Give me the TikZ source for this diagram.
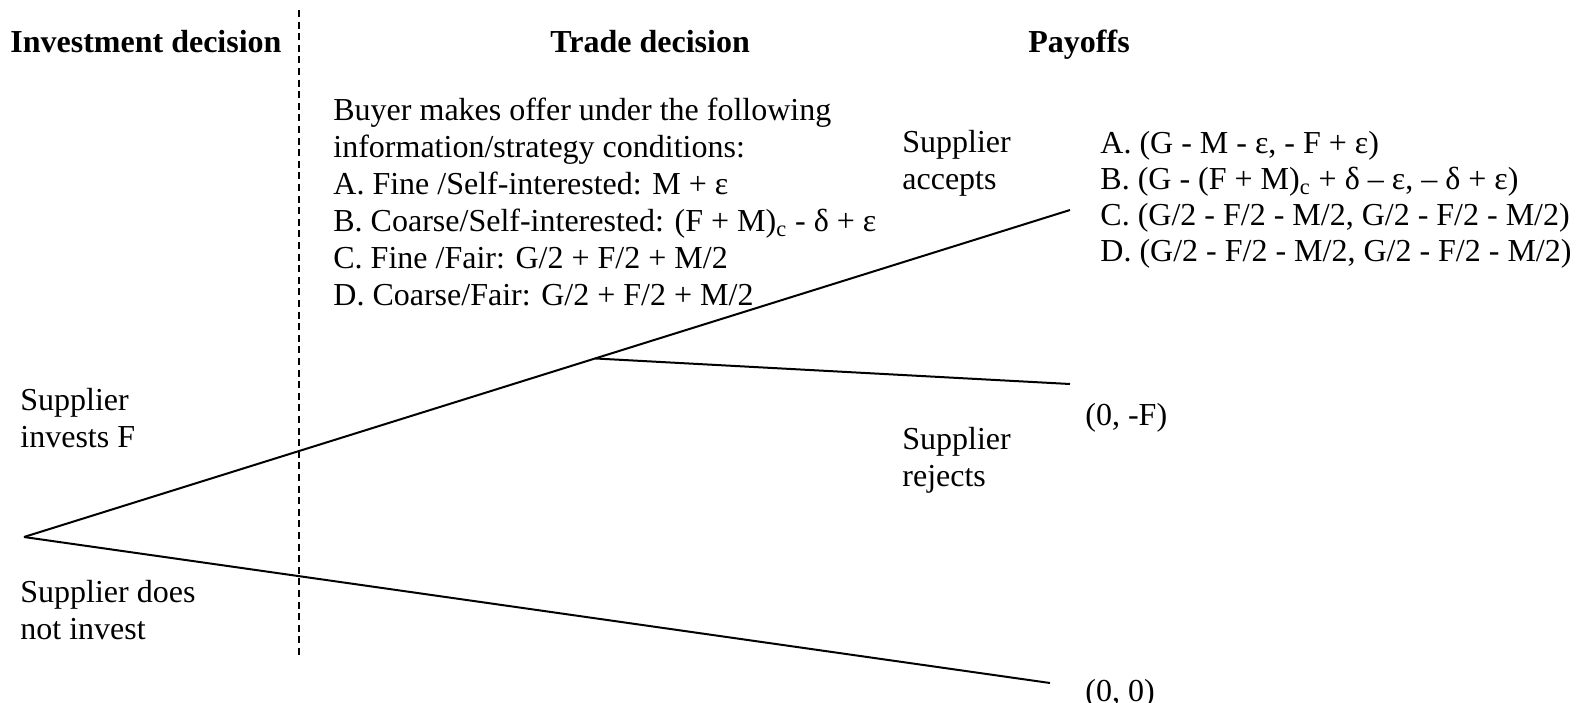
\documentclass[tikz,border=0pt]{standalone}
\usepackage{fontspec}
\setmainfont{Liberation Serif}
\usetikzlibrary{calc}
\begin{document}
\begin{tikzpicture}[x=0.5pt,y=-0.5pt,
  txt/.style={anchor=base west,inner sep=0pt,align=left,font=\fontsize{16}{18.5}\selectfont},
  pay/.style={anchor=base west,inner sep=0pt,align=left,font=\fontsize{16}{18}\selectfont},
  ttl/.style={anchor=base west,inner sep=0pt,font=\fontsize{16}{18.5}\selectfont\bfseries},
  branch/.style={line width=1pt},
  sep/.style={line width=0.8pt,dash pattern=on 3.5pt off 2.3pt}]
\useasboundingbox (0,0) rectangle (1578,702);
% titles
\node[ttl] (t1) at (10,52) {Investment decision};
\node[ttl] (t2) at (550,52) {Trade decision};
\node[ttl] (t3) at (1028,52) {Payoffs};
% separator
\coordinate (s1) at (299,10);
\coordinate (s2) at (299,659);
\draw[sep] (s1) -- (s2);
% tree
\coordinate (root) at (24,537);
\coordinate (up) at (1070,210);
\coordinate (mid) at ($(root)!0.546!(up)$);
\coordinate (rej) at (1070,384);
\coordinate (low) at (1050,683);
\draw[branch] (root) -- (up);
\draw[branch] (mid) -- (rej);
\draw[branch] (root) -- (low);
% texts (anchored at the baseline of the last line)
\node[txt] (buyer) at (333,305) {Buyer makes offer under the following\\information/strategy conditions:\\A. Fine /Self-interested: M + ε\\B. Coarse/Self-interested: (F + M)\textsubscript{c} - δ + ε\\C. Fine /Fair: G/2 + F/2 + M/2\\D. Coarse/Fair: G/2 + F/2 + M/2};
\node[txt] (acc) at (902,189) {Supplier\\accepts};
\node[pay] (payA) at (1100,261) {A. (G - M - ε, - F + ε)\\B. (G - (F + M)\textsubscript{c} + δ – ε, – δ + ε)\\C. (G/2 - F/2 - M/2, G/2 - F/2 - M/2)\\D. (G/2 - F/2 - M/2, G/2 - F/2 - M/2)};
\node[txt] (pF) at (1085,425) {(0, -F)};
\node[txt] (rejt) at (902,486) {Supplier\\rejects};
\node[txt] (inv) at (20,447) {Supplier\\invests F};
\node[txt] (ninv) at (20,639) {Supplier does\\not invest};
\node[txt] (p0) at (1085,701) {(0, 0)};
\end{tikzpicture}
\end{document}
